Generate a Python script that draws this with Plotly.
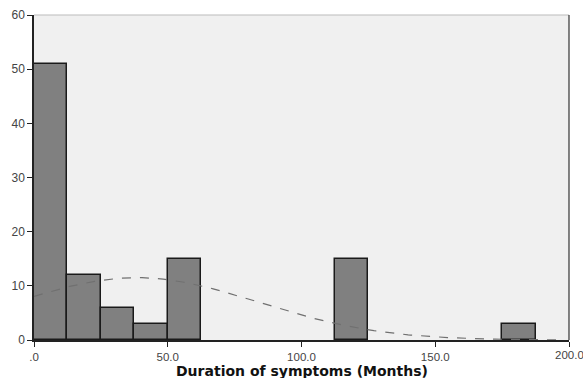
import numpy as np
import plotly.graph_objects as go

bin_left = [0, 12.5, 25, 37.5, 50, 112.5, 175]
counts = [51, 12, 6, 3, 15, 15, 3]
bin_width = 12.5
x_ticks = [0, 50, 100, 150]
x_tick_labels = [".0", "50.0", "100.0", "150.0"]
x_last_tick = 200
x_last_label = "200.0"
y_ticks = [0, 10, 20, 30, 40, 50, 60]

# fitted normal curve parameters
n_total = sum(counts)
mean = 38.4
sd = 45.5

centers = [b + bin_width / 2 for b in bin_left]
xc = np.linspace(0, 196, 200)
yc = n_total * bin_width / (sd * np.sqrt(2 * np.pi)) * np.exp(-(xc - mean) ** 2 / (2 * sd ** 2))

fig = go.Figure()
fig.add_trace(go.Bar(x=centers, y=counts, width=bin_width,
                     marker=dict(color="#808080", line=dict(color="#1a1a1a", width=1.5)),
                     showlegend=False, hoverinfo="skip"))
fig.add_trace(go.Scatter(x=xc, y=yc, mode="lines",
                         line=dict(color="#707070", width=1.2, dash="dash"),
                         showlegend=False, hoverinfo="skip"))

fig.update_layout(
    width=583, height=378,
    margin=dict(l=34, r=14, t=15, b=38),
    paper_bgcolor="white", plot_bgcolor="#f0f0f0",
    bargap=0,
    font=dict(family="Liberation Sans, Arial", color="#333"),
    xaxis=dict(range=[0, 200], tickvals=x_ticks + [x_last_tick], ticktext=x_tick_labels + [""],
               automargin=False,
               ticks="outside", ticklen=5, tickcolor="#222", showgrid=False, zeroline=False,
               showline=True, linecolor="#222", linewidth=1.5, mirror=False,
               tickfont=dict(size=11.5, color="#444")),
    yaxis=dict(range=[0, 60], tickvals=y_ticks, ticks="outside", ticklen=5, tickcolor="#222",
               automargin=False,
               showgrid=False, zeroline=False, showline=True, linecolor="#222", linewidth=1.5,
               tickfont=dict(size=12, color="#444")),
    shapes=[
        dict(type="line", xref="paper", yref="paper", x0=0, x1=1, y0=1, y1=1,
             line=dict(color="#bbbbbb", width=1)),
        dict(type="line", xref="paper", yref="paper", x0=1, x1=1, y0=0, y1=1,
             line=dict(color="#333333", width=1.2)),
    ],
    annotations=[
        dict(text="<b>Duration of symptoms (Months)</b>", xref="paper", yref="paper",
             x=0.5, y=0, xanchor="center", yanchor="middle", yshift=-30.5, showarrow=False,
             font=dict(family="DejaVu Sans", size=14, color="#111")),
        dict(text=x_last_label, xref="x", yref="paper", x=x_last_tick, y=0,
             xanchor="center", yanchor="middle", yshift=-15, showarrow=False,
             font=dict(size=11.5, color="#444")),
    ],
)

fig.write_html("out.html", config={"displayModeBar": False},
               post_script="document.body.style.margin='0px';document.body.style.overflow='hidden';")
